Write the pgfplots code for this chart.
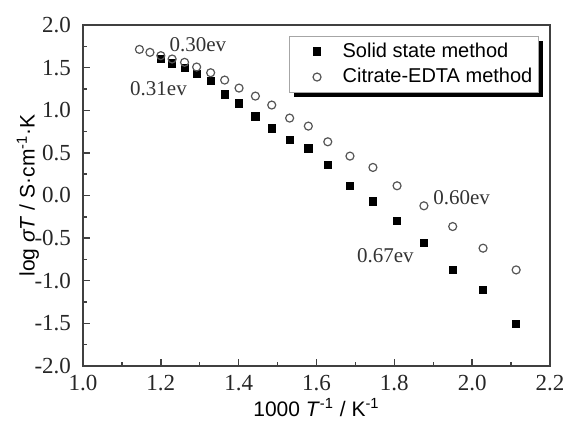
\documentclass[border=0pt]{standalone}
\usepackage{fontspec}
\setmainfont{Liberation Serif}
\newfontfamily\arial{Liberation Sans}
\usepackage{pgfplots}
\pgfplotsset{compat=1.18}
\usetikzlibrary{shadows}
\definecolor{axisgray}{HTML}{404040}
\definecolor{circgray}{HTML}{555555}

\pgfplotsset{
  mylegend/.style={legend image code/.code={%
    \path (0pt,0pt) (15pt,0pt);
    \draw[##1] plot coordinates {(12.5pt,0pt)};}},
}

\begin{document}
\begin{tikzpicture}
\useasboundingbox (-41.5pt,-27.5pt) rectangle (240pt,183pt);
\begin{axis}[
    scale only axis,
    width=233.5pt,
    height=170.5pt,
    xmin=1.0, xmax=2.2,
    ymin=-2, ymax=2,
    xtick={1.0,1.2,1.4,1.6,1.8,2.0,2.2},
    xticklabels={1.0,1.2,1.4,1.6,1.8,2.0,2.2},
    ytick={-2,-1.5,-1,-0.5,0,0.5,1,1.5,2},
    yticklabels={-2.0,-1.5,-1.0,-0.5,0.0,0.5,1.0,1.5,2.0},
    minor x tick num=1,
    minor y tick num=1,
    tick pos=left,
    tick align=inside,
    major tick length=3.5pt,
    minor tick length=2pt,
    axis line style={axisgray, line width=0.8pt},
    every tick/.style={axisgray, line width=0.7pt},
    tick label style={font=\fontsize{11.5}{12}\selectfont, text=black!85},
    xticklabel style={inner sep=4.5pt},
    yticklabel style={xshift=-2.5pt},
    xlabel={\arial 1000 \textit{T}\textsuperscript{-1} / K\textsuperscript{-1}},
    ylabel={\arial log \textit{σT} / S·cm\textsuperscript{-1}·K},
    label style={font=\fontsize{10.5}{12}\selectfont},
    xlabel style={at={(axis description cs:0.5,0)}, anchor=center, yshift=-21pt},
    ylabel style={at={(axis description cs:-0.118,0.5)}, anchor=center},
    legend style={
      at={(0.441,0.968)}, anchor=north west,
      draw=gray!70, line width=0.5pt, fill=white,
      font=\arial\fontsize{10}{11}\selectfont,
      inner xsep=1pt, inner ysep=1.2pt,
      column sep=8pt,
      drop shadow={shadow xshift=2.5pt, shadow yshift=-2.5pt, fill=black, opacity=1},
    },
    legend cell align=left,
]
\addplot[only marks, mark=square*, mark size=1.8pt, draw=black, fill=black, mylegend]
  coordinates {
  (1.200,1.605) (1.229,1.550) (1.261,1.495) (1.292,1.425) (1.328,1.346)
  (1.364,1.186) (1.401,1.080) (1.443,0.928) (1.485,0.787) (1.531,0.650)
  (1.579,0.552) (1.629,0.356) (1.686,0.110) (1.745,-0.070) (1.807,-0.301)
  (1.876,-0.560) (1.950,-0.873) (2.028,-1.108) (2.113,-1.503)
  };
\addlegendentry{Solid state method}
\addplot[only marks, mark=o, mark size=2pt, draw=circgray, line width=0.6pt, mylegend]
  coordinates {
  (1.145,1.714) (1.172,1.679) (1.200,1.640) (1.229,1.601) (1.261,1.562)
  (1.292,1.507) (1.328,1.440) (1.364,1.354) (1.401,1.260) (1.443,1.166)
  (1.485,1.061) (1.531,0.908) (1.579,0.814) (1.629,0.630) (1.686,0.462)
  (1.745,0.329) (1.807,0.114) (1.876,-0.121) (1.950,-0.364) (2.028,-0.618)
  (2.113,-0.873)
  };
\addlegendentry{Citrate-EDTA method}
\node[font=\fontsize{10.5}{12}\selectfont, text=black!80] at (axis cs:1.295,1.765) {0.30ev};
\node[font=\fontsize{10.5}{12}\selectfont, text=black!80] at (axis cs:1.194,1.256) {0.31ev};
\node[font=\fontsize{10.5}{12}\selectfont, text=black!80] at (axis cs:1.973,-0.024) {0.60ev};
\node[font=\fontsize{10.5}{12}\selectfont, text=black!80] at (axis cs:1.777,-0.700) {0.67ev};
\end{axis}
\end{tikzpicture}
\end{document}
